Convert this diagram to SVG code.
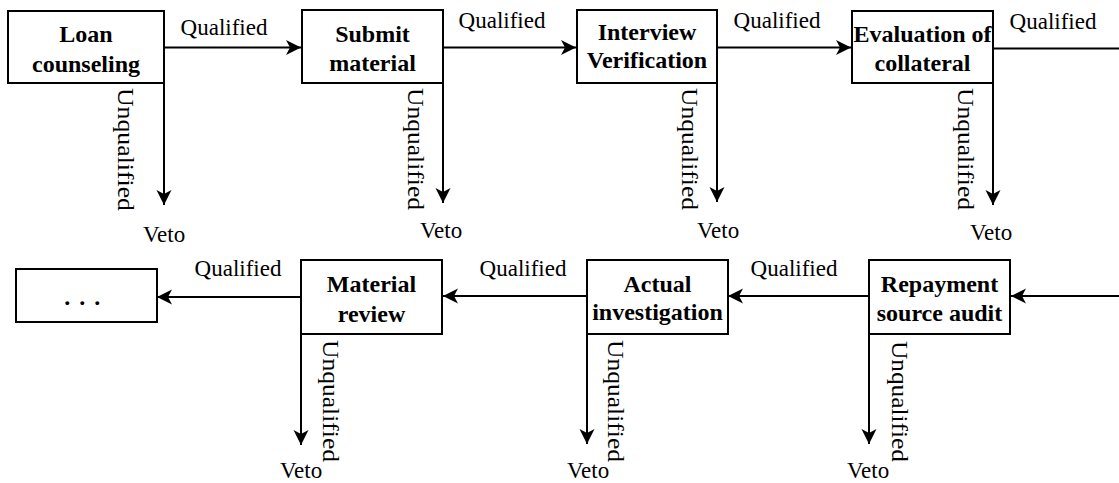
<svg xmlns="http://www.w3.org/2000/svg" width="1119" height="483" viewBox="0 0 1119 483">
<style>
.box{fill:#fff;stroke:#000;stroke-width:2}
.lbl{font-family:"Liberation Serif","Times New Roman",serif;font-size:24px;font-weight:bold;text-anchor:middle;fill:#000}
.t{font-family:"Liberation Serif","Times New Roman",serif;font-size:23px;fill:#000}
.q{text-anchor:middle}
.u{font-size:24px}
.c{fill:none;stroke:#000;stroke-width:2}
</style>
<defs>
<marker id="ah" markerUnits="userSpaceOnUse" markerWidth="16" markerHeight="16" refX="15" refY="7.5" orient="auto">
<path d="M0,0 L15,7.5 L0,15 L4,7.5 z" fill="#000"/>
</marker>
</defs>
<g id="connectors">
<path class="c" d="M164,47.5 H301" marker-end="url(#ah)"/>
<path class="c" d="M443,47.5 H576" marker-end="url(#ah)"/>
<path class="c" d="M717,47.5 H851" marker-end="url(#ah)"/>
<path class="c" d="M993,48.5 H1119"/>
<path class="c" d="M164,83 V205" marker-end="url(#ah)"/>
<path class="c" d="M443,83 V203" marker-end="url(#ah)"/>
<path class="c" d="M717,83 V202" marker-end="url(#ah)"/>
<path class="c" d="M993,83 V205" marker-end="url(#ah)"/>
<path class="c" d="M1119,296 H1011" marker-end="url(#ah)"/>
<path class="c" d="M869,296 H728" marker-end="url(#ah)"/>
<path class="c" d="M587,296 H443" marker-end="url(#ah)"/>
<path class="c" d="M301,297 H157" marker-end="url(#ah)"/>
<path class="c" d="M301,334 V445" marker-end="url(#ah)"/>
<path class="c" d="M587,334 V444" marker-end="url(#ah)"/>
<path class="c" d="M869,334 V444" marker-end="url(#ah)"/>
<text class="t q" x="224" y="35">Qualified</text>
<text class="t q" x="502" y="28">Qualified</text>
<text class="t q" x="777" y="28">Qualified</text>
<text class="t q" x="1053" y="29">Qualified</text>
<text class="t q" x="238" y="276">Qualified</text>
<text class="t q" x="523" y="276">Qualified</text>
<text class="t q" x="794" y="276">Qualified</text>
<text class="t u" transform="translate(118,88) rotate(90)" textLength="123" lengthAdjust="spacingAndGlyphs">Unqualified</text>
<text class="t u" transform="translate(408,88) rotate(90)" textLength="122" lengthAdjust="spacingAndGlyphs">Unqualified</text>
<text class="t u" transform="translate(682,88) rotate(90)" textLength="122" lengthAdjust="spacingAndGlyphs">Unqualified</text>
<text class="t u" transform="translate(958,88) rotate(90)" textLength="122" lengthAdjust="spacingAndGlyphs">Unqualified</text>
<text class="t u" transform="translate(323,340) rotate(90)" textLength="122" lengthAdjust="spacingAndGlyphs">Unqualified</text>
<text class="t u" transform="translate(608,340) rotate(90)" textLength="122" lengthAdjust="spacingAndGlyphs">Unqualified</text>
<text class="t u" transform="translate(892,341) rotate(90)" textLength="121" lengthAdjust="spacingAndGlyphs">Unqualified</text>
<text class="t" x="143" y="242">Veto</text>
<text class="t" x="420" y="238">Veto</text>
<text class="t" x="697" y="238">Veto</text>
<text class="t" x="970" y="240">Veto</text>
<text class="t" x="280" y="478">Veto</text>
<text class="t" x="567" y="478">Veto</text>
<text class="t" x="847" y="478">Veto</text>
</g>
<g id="n1"><rect class="box" x="8" y="11" width="156" height="72"/><text class="lbl" x="86" y="42">Loan</text><text class="lbl" x="86" y="72">counseling</text></g>
<g id="n2"><rect class="box" x="302" y="10" width="141" height="73"/><text class="lbl" x="372.5" y="41.5">Submit</text><text class="lbl" x="372.5" y="71">material</text></g>
<g id="n3"><rect class="box" x="577" y="10" width="140" height="73"/><text class="lbl" x="647" y="40">Interview</text><text class="lbl" x="647" y="68">Verification</text></g>
<g id="n4"><rect class="box" x="852" y="11" width="141" height="72"/><text class="lbl" x="922.5" y="41.5">Evaluation of</text><text class="lbl" x="922.5" y="71">collateral</text></g>
<g id="n5"><rect class="box" x="869" y="260" width="141" height="74"/><text class="lbl" x="939.5" y="292">Repayment</text><text class="lbl" x="939.5" y="321">source audit</text></g>
<g id="n6"><rect class="box" x="587" y="260" width="141" height="74"/><text class="lbl" x="657.5" y="292">Actual</text><text class="lbl" x="657.5" y="320">investigation</text></g>
<g id="n7"><rect class="box" x="301" y="260" width="141" height="74"/><text class="lbl" x="371.5" y="292">Material</text><text class="lbl" x="371.5" y="322">review</text></g>
<g id="n8"><rect class="box" x="16" y="269" width="141" height="53"/><text class="lbl" x="83" y="305" style="letter-spacing:1.5px">. . .</text></g>
</svg>
